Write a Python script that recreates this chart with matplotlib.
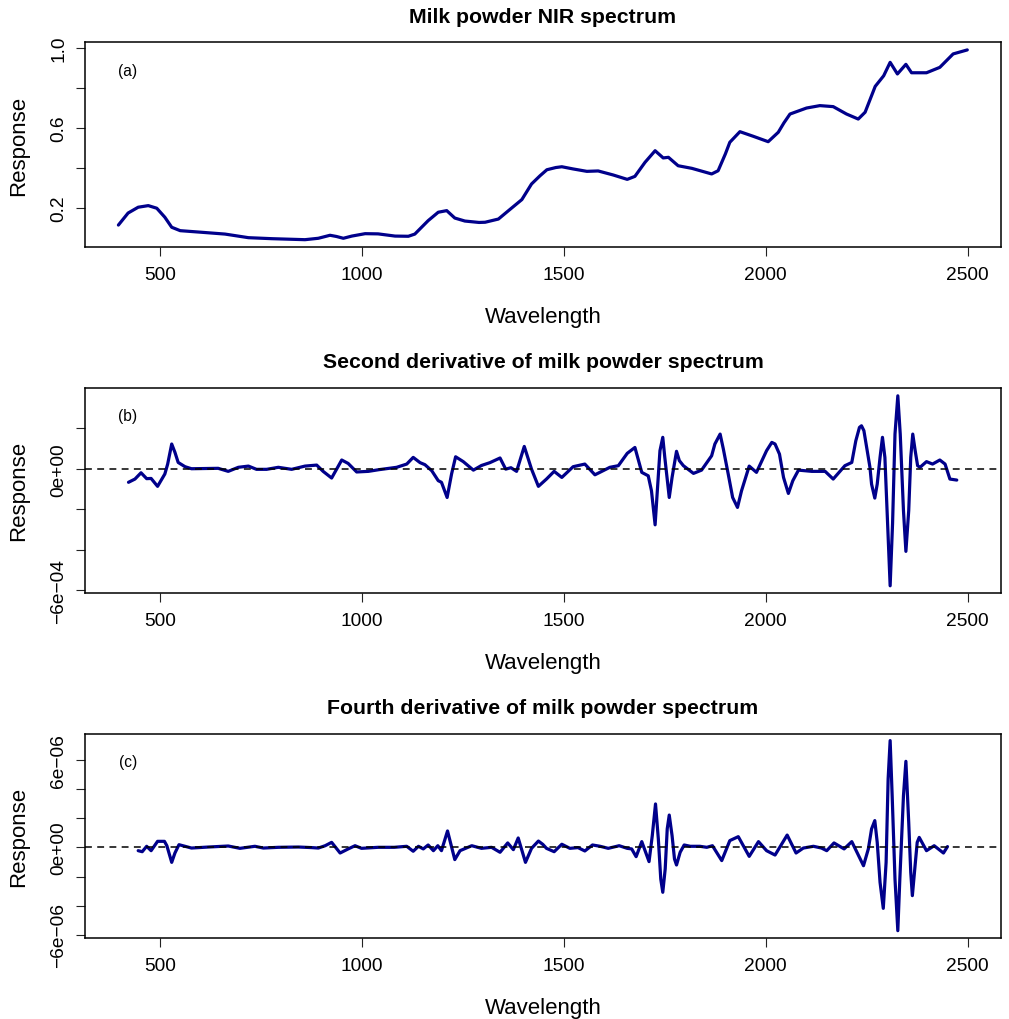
import matplotlib
matplotlib.use("Agg")
import matplotlib.pyplot as plt
import numpy as np

plt.rcParams["font.family"] = ["Liberation Sans", "DejaVu Sans"]

# (a) raw NIR spectrum, (wavelength, response)
spec_a = [
    (397, 0.115), (421, 0.175), (446, 0.204), (471, 0.212), (492, 0.199),
    (512, 0.154), (529, 0.104), (550, 0.087), (603, 0.079), (661, 0.070),
    (719, 0.052), (777, 0.047), (859, 0.042), (892, 0.049), (921, 0.064),
    (937, 0.058), (954, 0.049), (975, 0.060), (1008, 0.072), (1040, 0.071),
    (1082, 0.060), (1115, 0.059), (1131, 0.070), (1164, 0.137), (1189, 0.179),
    (1210, 0.187), (1230, 0.150), (1255, 0.135), (1290, 0.128), (1305, 0.129),
    (1338, 0.145), (1363, 0.187), (1396, 0.242), (1420, 0.320), (1441, 0.361),
    (1458, 0.391), (1480, 0.402), (1495, 0.406), (1523, 0.395), (1557, 0.383),
    (1585, 0.385), (1622, 0.365), (1657, 0.343), (1676, 0.358), (1701, 0.428),
    (1726, 0.486), (1746, 0.450), (1759, 0.453), (1783, 0.411), (1817, 0.398),
    (1866, 0.370), (1882, 0.386), (1900, 0.470), (1911, 0.528), (1936, 0.581),
    (1969, 0.558), (2006, 0.531), (2031, 0.578), (2045, 0.625), (2060, 0.669),
    (2101, 0.699), (2134, 0.711), (2167, 0.706), (2200, 0.669), (2229, 0.644),
    (2246, 0.678), (2271, 0.807), (2292, 0.860), (2308, 0.927), (2326, 0.869),
    (2347, 0.917), (2361, 0.875), (2398, 0.875), (2431, 0.902), (2464, 0.969),
    (2499, 0.989),
]

# (b) second derivative, response in units of 1e-04
spec_b = [
    (422, -0.67), (438, -0.51), (453, -0.20), (467, -0.49), (478, -0.48),
    (494, -0.87), (512, -0.26), (519, 0.23), (529, 1.22), (537, 0.81),
    (545, 0.31), (562, 0.10), (578, 0.00), (644, 0.02), (669, -0.13),
    (694, 0.07), (719, 0.13), (739, -0.03), (764, -0.03), (793, 0.07),
    (826, -0.03), (859, 0.13), (888, 0.18), (904, -0.13), (925, -0.46),
    (950, 0.43), (966, 0.26), (987, -0.16), (1016, -0.13), (1041, -0.05),
    (1086, 0.07), (1111, 0.23), (1127, 0.56), (1144, 0.30), (1156, 0.20),
    (1173, -0.10), (1189, -0.59), (1197, -0.67), (1211, -1.42), (1222, -0.26),
    (1232, 0.59), (1251, 0.35), (1276, -0.07), (1296, 0.16), (1317, 0.30),
    (1342, 0.53), (1356, -0.02), (1369, 0.05), (1383, -0.13), (1402, 1.10),
    (1420, -0.02), (1437, -0.87), (1457, -0.51), (1476, -0.13), (1495, -0.43),
    (1523, 0.10), (1552, 0.23), (1577, -0.30), (1614, 0.07), (1635, 0.15),
    (1657, 0.76), (1676, 1.05), (1693, -0.18), (1709, -0.35), (1717, -1.09),
    (1726, -2.77), (1731, -1.25), (1738, 0.89), (1745, 1.55), (1750, 0.56),
    (1761, -1.42), (1768, -0.43), (1779, 0.86), (1786, 0.40), (1796, 0.15),
    (1821, -0.23), (1841, -0.07), (1866, 0.64), (1874, 1.22), (1887, 1.71),
    (1895, 0.97), (1907, -0.26), (1918, -1.42), (1930, -1.91), (1940, -1.09),
    (1959, 0.13), (1977, -0.18), (2002, 0.89), (2015, 1.30), (2023, 1.22),
    (2034, 0.72), (2044, -0.43), (2056, -1.22), (2067, -0.59), (2081, -0.07),
    (2114, -0.13), (2147, -0.13), (2167, -0.51), (2196, 0.15), (2213, 0.31),
    (2223, 1.38), (2232, 2.04), (2237, 2.12), (2243, 1.88), (2250, 1.05),
    (2258, 0.07), (2262, -0.76), (2270, -1.45), (2276, -0.76), (2283, 0.56),
    (2289, 1.55), (2295, 0.56), (2301, -2.40), (2308, -5.78), (2314, -2.70),
    (2320, 1.71), (2327, 3.60), (2333, 1.71), (2341, -2.07), (2347, -4.08),
    (2354, -2.07), (2359, 0.56), (2364, 1.71), (2370, 0.89), (2376, 0.15),
    (2382, 0.07), (2398, 0.35), (2413, 0.23), (2431, 0.43), (2444, 0.23),
    (2456, -0.51), (2473, -0.56),
]

# (c) fourth derivative, response in units of 1e-06
spec_c = [
    (446, -0.23), (456, -0.30), (467, 0.07), (478, -0.23), (494, 0.41),
    (511, 0.41), (517, 0.11), (529, -1.03), (537, -0.39), (547, 0.18),
    (562, 0.07), (578, -0.05), (620, 0.02), (669, 0.09), (698, -0.07),
    (735, 0.07), (756, -0.05), (793, 0.00), (843, 0.02), (876, -0.02),
    (892, -0.05), (909, 0.11), (925, 0.34), (946, -0.39), (966, -0.11),
    (983, 0.11), (999, -0.07), (1040, 0.00), (1080, 0.00), (1111, 0.07),
    (1127, -0.27), (1140, 0.07), (1152, -0.11), (1164, 0.16), (1177, -0.23),
    (1188, 0.11), (1197, -0.23), (1212, 1.12), (1230, -0.84), (1243, -0.23),
    (1272, 0.11), (1296, -0.07), (1321, 0.00), (1342, -0.34), (1361, 0.30),
    (1375, -0.16), (1387, 0.64), (1405, -1.03), (1420, -0.07), (1437, 0.43),
    (1448, 0.20), (1457, -0.07), (1476, -0.30), (1495, 0.21), (1515, -0.07),
    (1535, -0.02), (1552, -0.25), (1571, 0.16), (1590, 0.07), (1610, -0.07),
    (1637, 0.11), (1657, -0.07), (1668, -0.11), (1679, -0.64), (1693, 0.39),
    (1711, -0.98), (1719, 0.80), (1727, 2.97), (1734, 0.57), (1740, -2.17),
    (1745, -3.08), (1751, -1.48), (1756, 1.26), (1761, 2.21), (1768, 0.80),
    (1774, -0.80), (1779, -1.21), (1788, -0.34), (1798, 0.16), (1813, 0.07),
    (1837, 0.07), (1854, 0.00), (1868, 0.11), (1891, -0.91), (1911, 0.46),
    (1932, 0.73), (1959, -0.62), (1982, 0.39), (2002, -0.23), (2023, -0.53),
    (2053, 0.84), (2075, -0.39), (2093, -0.05), (2118, 0.07), (2138, -0.05),
    (2151, -0.23), (2169, 0.30), (2194, -0.11), (2213, 0.39), (2242, -1.26),
    (2254, -0.11), (2262, 1.26), (2270, 1.83), (2276, 0.34), (2283, -2.40),
    (2291, -4.18), (2298, -1.03), (2303, 4.68), (2308, 7.31), (2313, 3.54),
    (2320, -2.17), (2327, -5.71), (2332, -2.17), (2341, 3.54), (2347, 5.89),
    (2354, 1.71), (2359, -1.71), (2363, -3.31), (2369, -1.48), (2375, 0.34),
    (2380, 0.68), (2398, -0.23), (2417, 0.11), (2440, -0.39), (2450, 0.05),
]

x_ticks = [500, 1000, 1500, 2000, 2500]
yticks_a = [0.2, 0.4, 0.6, 0.8, 1.0]
ylabels_a = ["0.2", "", "0.6", "", "1.0"]
yticks_b = [-6e-4, -4e-4, -2e-4, 0, 2e-4]
ylabels_b = ["\u22126e\u221204", "", "", "0e+00", ""]
yticks_c = [-6e-6, -4e-6, -2e-6, 0, 2e-6, 4e-6, 6e-6]
ylabels_c = ["\u22126e\u221206", "", "", "0e+00", "", "", "6e\u221206"]

titles = ["Milk powder NIR spectrum",
          "Second derivative of milk powder spectrum",
          "Fourth derivative of milk powder spectrum"]

W, H = 1009, 1020
fig = plt.figure(figsize=(W / 100, H / 100), dpi=100)

# pixel boxes of the three panels: top, bottom
boxes = [(43.3, 248.3), (389, 593.7), (735, 939)]
left, right = 85, 1001

wl_a, resp_a = np.array(spec_a).T
wl_b, resp_b = np.array(spec_b).T
wl_c, resp_c = np.array(spec_c).T

panels = [
    (wl_a, resp_a, yticks_a, ylabels_a, (0.004, 1.027), "(a)", False),
    (wl_b, resp_b * 1e-4, yticks_b, ylabels_b, (-6.12e-4, 3.985e-4), "(b)", True),
    (wl_c, resp_c * 1e-6, yticks_c, ylabels_c, (-6.21e-6, 7.76e-6), "(c)", True),
]

for (top, bot), title, (wl, resp, yt, yl, ylim, tag, zero) in zip(boxes, titles, panels):
    ax = fig.add_axes([left / W, 1 - bot / H, (right - left) / W, (bot - top) / H])
    ax.plot(wl, resp, color="#00008B", lw=2.3, solid_joinstyle="round",
            solid_capstyle="round")
    if zero:
        ax.axhline(0, color="black", lw=1.1, ls=(0, (4.5, 3.5)))
    ax.set_xlim(314.3, 2582.5)
    ax.set_ylim(*ylim)
    ax.set_xticks(x_ticks)
    ax.set_yticks(yt)
    ax.set_yticklabels(yl, rotation=90, va="center")
    ax.tick_params(direction="out", length=6.8, width=0.8, labelsize=13.8,
                   color="#222222")
    ax.tick_params(axis="x", pad=7)
    ax.tick_params(axis="y", pad=6)
    for s in ax.spines.values():
        s.set_linewidth(1.1)
    h = bot - top
    ax.set_title(title, fontsize=15.3, fontweight="bold", pad=14.8)
    ax.set_xlabel("Wavelength", fontsize=16)
    ax.xaxis.label.set_va("baseline")
    ax.xaxis.set_label_coords(0.5, -75 / h)
    ax.set_ylabel("Response", fontsize=16)
    ax.yaxis.label.set(va="baseline", ha="center", rotation_mode="anchor")
    ax.yaxis.set_label_coords((24 - left) / (right - left), 0.5)
    ax.text(0.047, 1 - 28 / h, tag, transform=ax.transAxes, ha="center",
            va="center", fontsize=11.2)

fig.savefig("out.png", dpi=100)
